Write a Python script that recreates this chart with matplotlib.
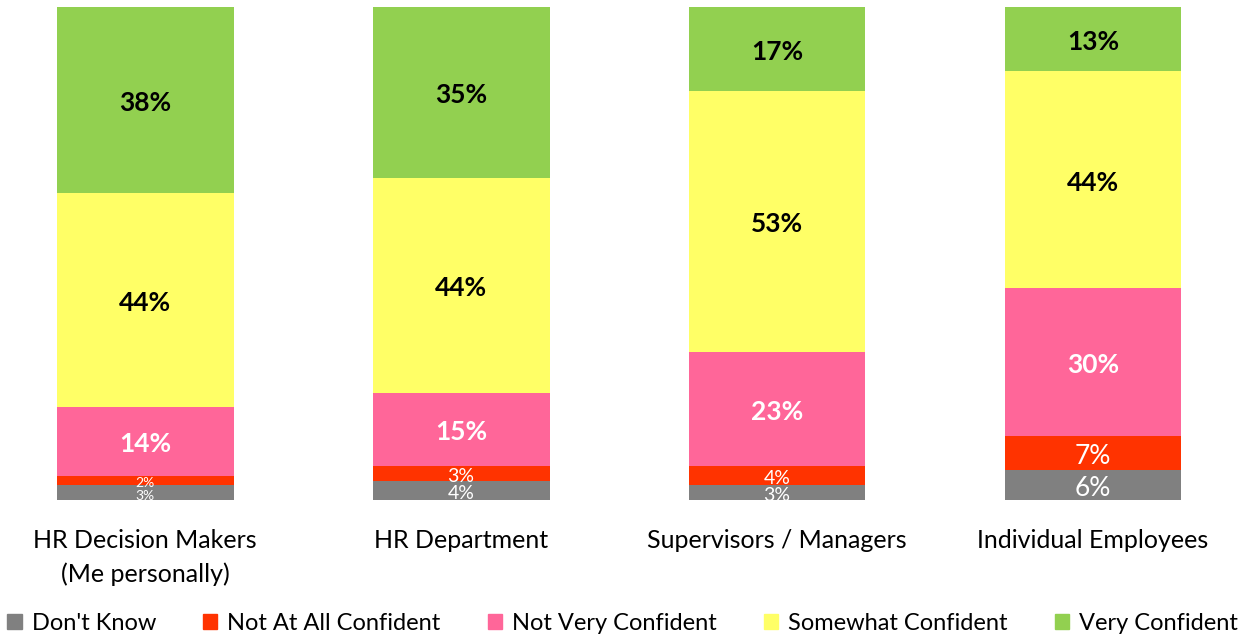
import numpy as np
import matplotlib.pyplot as plt
from matplotlib.patches import Patch

plt.rcParams['font.family'] = ['Lato', 'DejaVu Sans']

categories = ["HR Decision Makers\n(Me personally)", "HR Department",
              "Supervisors / Managers", "Individual Employees"]
series = ["Don't Know", "Not At All Confident", "Not Very Confident",
          "Somewhat Confident", "Very Confident"]
dont_know = [3, 4, 3, 6]
not_at_all = [2, 3, 4, 7]
not_very = [14, 15, 23, 30]
somewhat = [44, 44, 53, 44]
very = [38, 35, 17, 13]

colors = ["#808080", "#FF3300", "#FF6699", "#FFFF66", "#92D050"]
text_colors = ["white", "white", "white", "black", "black"]
small_sizes = [10, 14, 14, 19]   # excel shrinks the labels of thin segments

data = np.array([dont_know, not_at_all, not_very, somewhat, very], dtype=float)
# 100% stacked, like the Excel original
shares = data / data.sum(axis=0) * 100

fig = plt.figure(figsize=(12.45, 6.36), dpi=100)
ax = fig.add_axes([0, 0.2138, 1, 0.775])

x = np.arange(len(categories))
bottom = np.zeros(len(categories))
for i, name in enumerate(series):
    ax.bar(x, shares[i], 0.56, bottom=bottom, color=colors[i], label=name)
    for j in range(len(categories)):
        val = data[i, j]
        y = bottom[j] + shares[i, j] / 2 - 0.6
        if i >= 2:
            ax.text(x[j], y, f"{val:.0f}%", ha="center", va="center",
                    fontsize=19, fontweight="bold", color=text_colors[i])
        else:
            ax.text(x[j], y, f"{val:.0f}%", ha="center", va="center",
                    fontsize=small_sizes[j], color=text_colors[i])
    bottom += shares[i]

ax.set_xlim(-0.459, 3.481)
ax.set_ylim(0, 100)
ax.axis("off")

for j, cat in enumerate(categories):
    ax.text(x[j], -5.8, cat, ha="center", va="top", fontsize=18,
            linespacing=1.55)

handles = [Patch(color=c, label=s) for c, s in zip(colors, series)]
fig.legend(handles=handles, loc="lower center", ncol=5, frameon=False,
           fontsize=17, bbox_to_anchor=(0.5, -0.03), handlelength=0.6,
           handleheight=0.6, handletextpad=0.42, columnspacing=2.0)

plt.savefig("out.png", dpi=100)
